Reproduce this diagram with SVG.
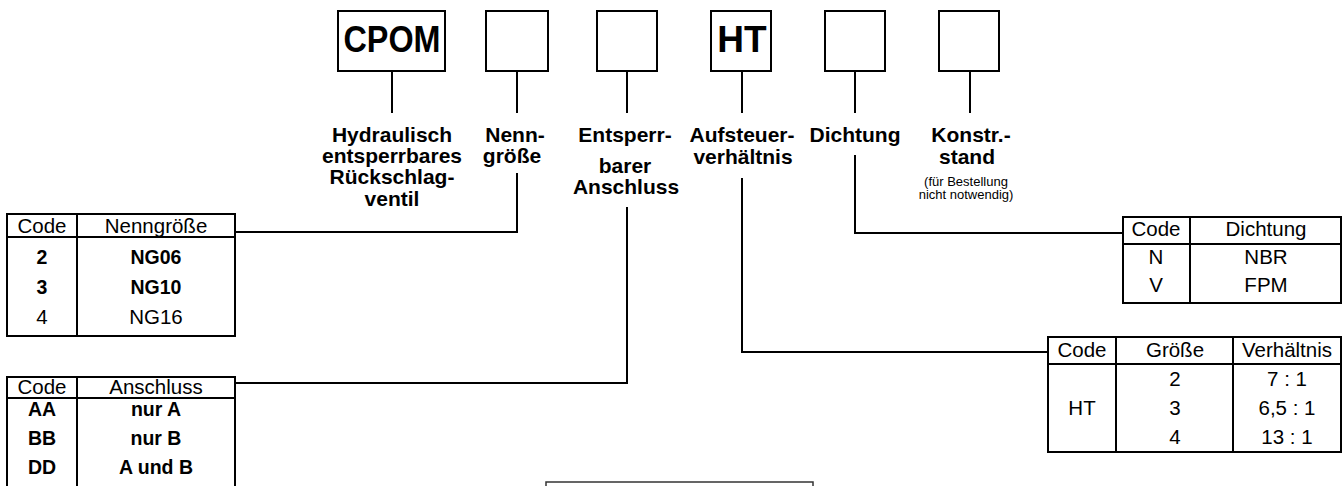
<svg xmlns="http://www.w3.org/2000/svg" width="1343" height="486" viewBox="0 0 1343 486">
<style>
.box{fill:#fff;stroke:#000;stroke-width:2}
.ln{fill:none;stroke:#000;stroke-width:2}
.code{font-family:"Liberation Sans",Arial,sans-serif;font-weight:bold;font-size:37px;text-anchor:middle}
.lbl{font-family:"Liberation Sans",Arial,sans-serif;font-weight:bold;font-size:21px;text-anchor:middle}
.sm{font-family:"Liberation Sans",Arial,sans-serif;font-size:13px;text-anchor:middle}
.t{font-family:"Liberation Sans",Arial,sans-serif;font-size:20.5px;text-anchor:middle}
.tb{font-family:"Liberation Sans",Arial,sans-serif;font-size:19.5px;font-weight:bold;text-anchor:middle}
</style>
<rect width="1343" height="486" fill="#fff"/>
<g id="box-cpom"><rect class="box" x="338" y="11" width="107" height="60"/><text class="code" x="392" y="52" textLength="97" lengthAdjust="spacingAndGlyphs">CPOM</text></g>
<g id="box-ng"><rect class="box" x="486" y="11" width="62" height="60"/></g>
<g id="box-ansch"><rect class="box" x="597" y="11" width="60" height="60"/></g>
<g id="box-ht"><rect class="box" x="711" y="11" width="60" height="60"/><text class="code" x="742" y="52">HT</text></g>
<g id="box-dicht"><rect class="box" x="825" y="11" width="60" height="60"/></g>
<g id="box-konstr"><rect class="box" x="939" y="11" width="60" height="60"/></g>

<g id="label-typ"><text class="lbl" x="392" y="142">Hydraulisch</text><text class="lbl" x="392" y="163">entsperrbares</text><text class="lbl" x="392" y="184">Rückschlag-</text><text class="lbl" x="392" y="206">ventil</text></g>
<g id="label-ng"><text class="lbl" x="515" y="142">Nenn-</text><text class="lbl" x="512" y="163">größe</text></g>
<g id="label-ansch"><text class="lbl" x="625" y="142">Entsperr-</text><text class="lbl" x="625" y="173">barer</text><text class="lbl" x="626" y="194">Anschluss</text></g>
<g id="label-auf"><text class="lbl" x="742" y="142">Aufsteuer-</text><text class="lbl" x="743" y="164">verhältnis</text></g>
<g id="label-dicht"><text class="lbl" x="855" y="142">Dichtung</text></g>
<g id="label-konstr"><text class="lbl" x="971" y="142">Konstr.-</text><text class="lbl" x="967" y="164">stand</text><text class="sm" x="966" y="186">(für Bestellung</text><text class="sm" x="966" y="199">nicht notwendig)</text></g>

<g id="table-ng">
<rect class="box" x="7" y="214" width="228" height="122"/>
<path class="ln" d="M7 237H235M77 214V336"/>
<text class="t" x="42" y="233">Code</text><text class="t" x="156" y="233">Nenngröße</text>
<text class="tb" x="42" y="264">2</text><text class="tb" x="156" y="264">NG06</text>
<text class="tb" x="42" y="294">3</text><text class="tb" x="156" y="294">NG10</text>
<text class="t" x="42" y="324">4</text><text class="t" x="156" y="324">NG16</text>
</g>
<g id="table-ansch">
<rect class="box" x="7" y="377" width="228" height="130"/>
<path class="ln" d="M7 398H235M77 377V490"/>
<text class="t" x="42" y="394">Code</text><text class="t" x="156" y="394">Anschluss</text>
<text class="tb" x="42" y="416">AA</text><text class="tb" x="156" y="416">nur A</text>
<text class="tb" x="42" y="445">BB</text><text class="tb" x="156" y="445">nur B</text>
<text class="tb" x="42" y="474">DD</text><text class="tb" x="156" y="474">A und B</text>
</g>
<g id="table-dicht">
<rect class="box" x="1123" y="217" width="218" height="86"/>
<path class="ln" d="M1123 244H1341M1190 217V303"/>
<text class="t" x="1156" y="236">Code</text><text class="t" x="1266" y="236">Dichtung</text>
<text class="t" x="1156" y="264">N</text><text class="t" x="1266" y="264">NBR</text>
<text class="t" x="1156" y="292">V</text><text class="t" x="1266" y="292">FPM</text>
</g>
<g id="table-ht">
<rect class="box" x="1048" y="337" width="293" height="115"/>
<path class="ln" d="M1048 364H1341M1116 337V452M1233 337V452"/>
<text class="t" x="1082" y="357">Code</text><text class="t" x="1175" y="357">Größe</text><text class="t" x="1287" y="357">Verhältnis</text>
<text class="t" x="1082" y="415">HT</text>
<text class="t" x="1175" y="386">2</text><text class="t" x="1287" y="386">7 : 1</text>
<text class="t" x="1175" y="415">3</text><text class="t" x="1287" y="415">6,5 : 1</text>
<text class="t" x="1175" y="444">4</text><text class="t" x="1287" y="444">13 : 1</text>
</g>
<g id="bottom-box"><rect x="546" y="482" width="267" height="20" fill="none" stroke="#333" stroke-width="1.5"/></g>

<g id="connectors">
<path class="ln" d="M392 72V113M517 72V113M627 72V113M742 72V113M855 72V113M970 72V113"/>
<path class="ln" d="M517 173V232H235"/>
<path class="ln" d="M627 207V383H235"/>
<path class="ln" d="M742 178V352H1048"/>
<path class="ln" d="M855 155V233H1123"/>
</g>
</svg>
